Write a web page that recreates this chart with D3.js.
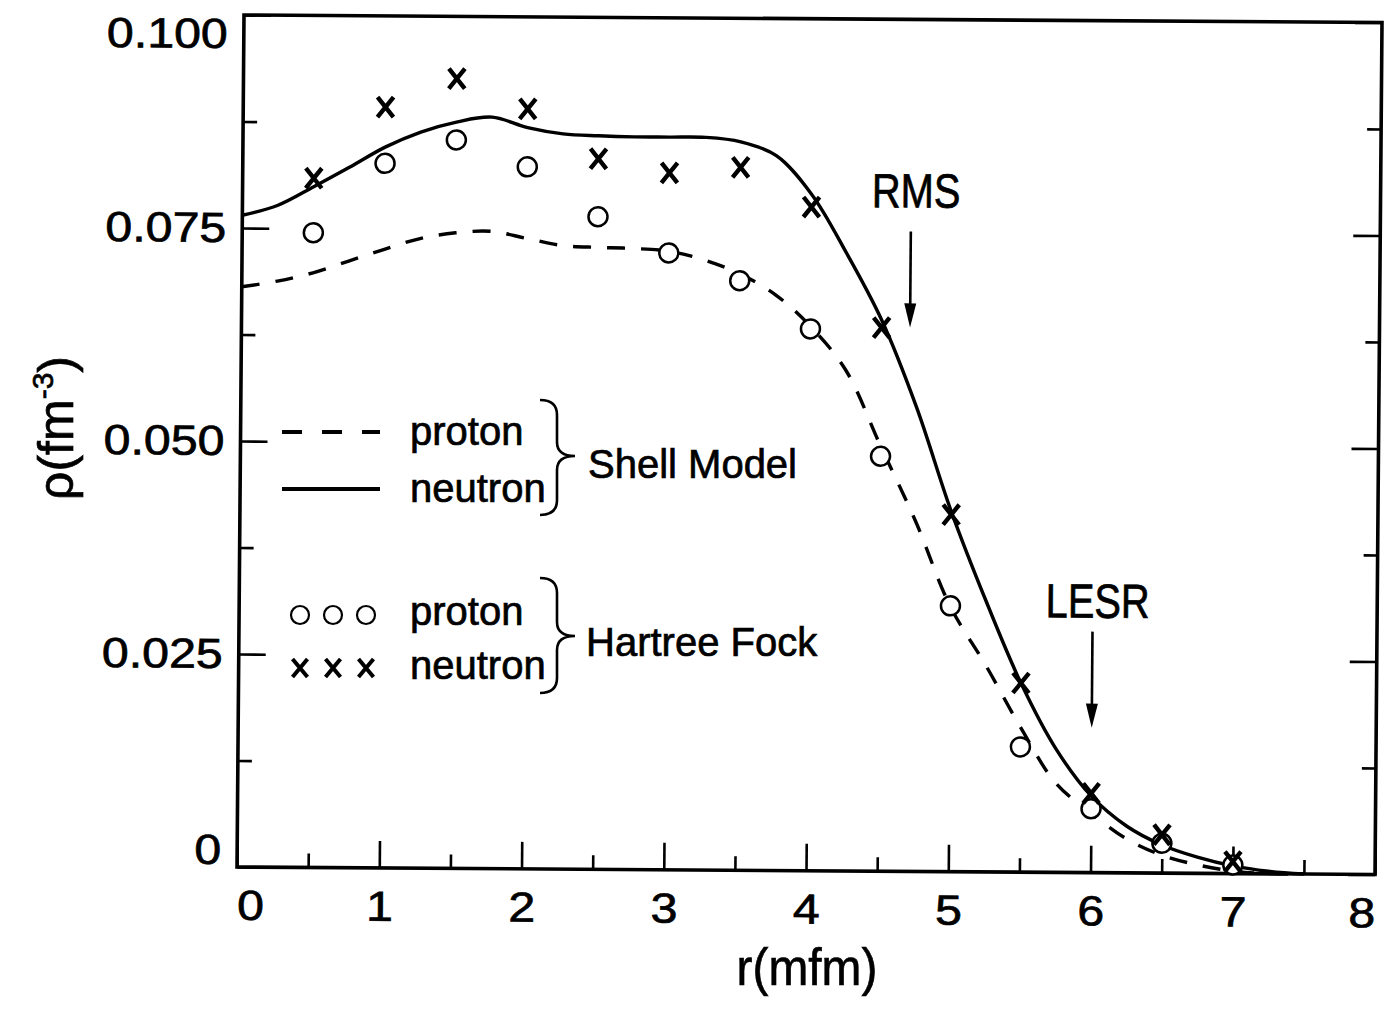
<!DOCTYPE html>
<html>
<head>
<meta charset="utf-8">
<script src="https://cdn.jsdelivr.net/npm/d3@7"></script>
<style>
  html, body { margin: 0; padding: 0; background: #fff; }
  svg { display: block; }
  text { font-family: "Liberation Sans", Arial, Helvetica, sans-serif; fill: #000; stroke: #000; stroke-width: 0.7px; }
</style>
</head>
<body>
<svg id="chart" width="1393" height="1010"></svg>
<script>
// ---- data -------------------------------------------------------------
// radial grid (fm) on which the shell-model densities are tabulated
const rGrid = [0, 0.25, 0.5, 0.75, 1, 1.25, 1.5, 1.75, 2, 2.25, 2.5, 2.75, 3, 3.25, 3.5, 3.75,
               4, 4.25, 4.5, 4.75, 5, 5.25, 5.5, 5.75, 6, 6.25, 6.5, 6.75, 7, 7.25, 7.5];

// shell model densities (fm^-3)
const shellProton = [0.0681, 0.0688, 0.0698, 0.0712, 0.0726, 0.0739, 0.0746, 0.0748, 0.0740, 0.0732,
                     0.0730, 0.0729, 0.0726, 0.0716, 0.0700, 0.0676, 0.0639, 0.0588, 0.0499, 0.0411,
                     0.0311, 0.0243, 0.0170, 0.0105, 0.0070, 0.0040, 0.0021, 0.0010, 0.0003, 0.0000, 0.0000];
const shellNeutron = [0.0765, 0.0777, 0.0799, 0.0822, 0.0846, 0.0864, 0.0876, 0.0882, 0.0870, 0.0863,
                      0.0861, 0.0860, 0.0860, 0.0860, 0.0855, 0.0839, 0.0794, 0.0725, 0.0647, 0.0545,
                      0.0423, 0.0318, 0.0222, 0.0145, 0.0090, 0.0055, 0.0033, 0.0019, 0.0009, 0.0003, 0.0000];

// Hartree-Fock densities (fm^-3)
const hfRadii = [0.5, 1, 1.5, 2, 2.5, 3, 3.5, 4, 4.5, 5, 5.5, 6, 6.5, 7];
const hfProton = [0.0745, 0.0827, 0.0855, 0.0824, 0.0766, 0.0724, 0.0692, 0.0636, 0.0487, 0.0312,
                  0.0147, 0.0075, 0.0035, 0.0010];
const hfNeutron = [0.0809, 0.0893, 0.0927, 0.0892, 0.0834, 0.0818, 0.0825, 0.0779, 0.0638, 0.0419,
                   0.0222, 0.0093, 0.0045, 0.0014];

// axis ticks
const xTicks = [0, 1, 2, 3, 4, 5, 6, 7, 8];
const yTicks = [0, 0.025, 0.05, 0.075, 0.1];
const yTickLabels = ["0", "0.025", "0.050", "0.075", "0.100"];

// radii marked with arrows
const radiusMarks = ["RMS", "LESR"];
const radiusValues = [4.7, 6.0];

// ---- layout -----------------------------------------------------------
const W = 1138, H = 852;
const svg = d3.select("#chart");
svg.append("rect").attr("width", 1393).attr("height", 1010).attr("fill", "#fff");

// the plot box sits slightly tilted on the page
const g = svg.append("g").attr("transform", "matrix(1,0.0066,-0.0082,1,244,15)");

const x = d3.scaleLinear().domain([0, 8]).range([0, W]);
const y = d3.scaleLinear().domain([0, 0.1]).range([H, 0]);

function stretch(sel, k) {
  sel.each(function () {
    const w = this.getComputedTextLength();
    d3.select(this).attr("textLength", w * k).attr("lengthAdjust", "spacingAndGlyphs");
  });
}
function styleAxis(sel) {
  sel.select(".domain").remove();
  sel.selectAll("line").attr("stroke", "#000").attr("stroke-width", 2.6);
  sel.selectAll("text").attr("font-size", 42).attr("fill", "#000");
}

const mid = arr => arr.slice(1).map((v, i) => (v + arr[i]) / 2);
const xMinor = mid(xTicks), yMinor = mid(yTicks);

// bottom axis
const xAx = g.append("g").attr("transform", `translate(0,${H})`)
  .call(d3.axisBottom(x).tickValues(xTicks).tickSize(-27).tickPadding(23).tickFormat(d3.format("d")))
  .call(styleAxis);
xAx.selectAll(".tick text").attr("text-anchor", d => d === 0 ? "start" : d === 8 ? "end" : "middle");
stretch(xAx.selectAll(".tick text"), 1.15);
g.append("g").attr("transform", `translate(0,${H})`)
  .call(d3.axisBottom(x).tickValues(xMinor).tickSize(-14).tickFormat(""))
  .call(styleAxis);

// left axis
const yAx = g.append("g")
  .call(d3.axisLeft(y).tickValues(yTicks).tickSize(-27).tickPadding(16)
        .tickFormat((d, i) => yTickLabels[i]))
  .call(styleAxis);
yAx.selectAll(".tick text").attr("y", d => d === 0.1 ? 19 : d === 0 ? -17 : 0);
stretch(yAx.selectAll(".tick text"), 1.15);
g.append("g").call(d3.axisLeft(y).tickValues(yMinor).tickSize(-14).tickFormat("")).call(styleAxis);

// right axis
g.append("g").attr("transform", `translate(${W},0)`)
  .call(d3.axisRight(y).tickValues(yTicks).tickSize(-27).tickFormat("")).call(styleAxis);
g.append("g").attr("transform", `translate(${W},0)`)
  .call(d3.axisRight(y).tickValues(yMinor).tickSize(-14).tickFormat("")).call(styleAxis);

// frame
g.append("rect").attr("x", 0).attr("y", 0).attr("width", W).attr("height", H)
  .attr("fill", "none").attr("stroke", "#000").attr("stroke-width", 3.6);

// ---- curves -----------------------------------------------------------
const line = d3.line()
  .x((d, i) => x(rGrid[i]))
  .y(d => y(d))
  .curve(d3.curveCatmullRom.alpha(0.5));

g.append("path").datum(shellNeutron).attr("d", line)
  .attr("fill", "none").attr("stroke", "#000").attr("stroke-width", 3.4);
g.append("path").datum(shellProton).attr("d", line)
  .attr("fill", "none").attr("stroke", "#000").attr("stroke-width", 3.4)
  .attr("stroke-dasharray", "18,16");

// ---- Hartree-Fock points ---------------------------------------------
g.selectAll("circle.hfp").data(hfProton).join("circle").attr("class", "hfp")
  .attr("cx", (d, i) => x(hfRadii[i])).attr("cy", d => y(d)).attr("r", 9.5)
  .attr("fill", "#fff").attr("stroke", "#000").attr("stroke-width", 2.5);

const crossPath = "M-8,-10L8,10M8,-10L-8,10";
g.selectAll("path.hfn").data(hfNeutron).join("path").attr("class", "hfn")
  .attr("transform", (d, i) => `translate(${x(hfRadii[i])},${y(d)})`)
  .attr("d", crossPath).attr("fill", "none").attr("stroke", "#000").attr("stroke-width", 4.4);

// ---- radius arrows ---------------------------------------------------
const arrowLayout = { RMS: { top: 212, tip: 308, label: 188 }, LESR: { top: 611, tip: 707, label: 597 } };
radiusMarks.forEach((name, i) => {
  const ax = x(radiusValues[i]);
  const L = arrowLayout[name];
  g.append("line").attr("x1", ax).attr("x2", ax).attr("y1", L.top).attr("y2", L.tip - 20)
    .attr("stroke", "#000").attr("stroke-width", 2.6);
  g.append("path").attr("d", `M${ax - 6},${L.tip - 24}L${ax + 6},${L.tip - 24}L${ax},${L.tip}Z`)
    .attr("fill", "#000");
  const t = g.append("text").attr("x", ax + 5).attr("y", L.label)
    .attr("text-anchor", "middle").attr("font-size", 48).text(name);
  stretch(t, 0.83);
});

// ---- axis titles -----------------------------------------------------
const xt = svg.append("text").attr("x", 807).attr("y", 985).attr("text-anchor", "middle")
  .attr("font-size", 52).text("r(mfm)");
stretch(xt, 0.92);

const yt = svg.append("text").attr("transform", "translate(73,500) rotate(-90)")
  .attr("font-size", 50);
yt.append("tspan").text("ρ(fm");
yt.append("tspan").attr("font-size", 30).attr("dy", -20).text("-3");
yt.append("tspan").attr("dy", 20).text(")");

// ---- legend ----------------------------------------------------------
const leg = svg.append("g");
leg.append("line").attr("x1", 282).attr("x2", 380).attr("y1", 432).attr("y2", 432)
  .attr("stroke", "#000").attr("stroke-width", 4).attr("stroke-dasharray", "20,20");
leg.append("line").attr("x1", 282).attr("x2", 380).attr("y1", 489).attr("y2", 489)
  .attr("stroke", "#000").attr("stroke-width", 4);

[300, 333, 366].forEach(cx => {
  leg.append("circle").attr("cx", cx).attr("cy", 615).attr("r", 9).attr("fill", "none")
    .attr("stroke", "#000").attr("stroke-width", 2.2);
  leg.append("path").attr("transform", `translate(${cx},668)`).attr("d", "M-7.5,-9L7.5,9M7.5,-9L-7.5,9")
    .attr("fill", "none").attr("stroke", "#000").attr("stroke-width", 4);
});

const legText = [
  { t: "proton", x: 410, y: 445 }, { t: "neutron", x: 410, y: 502 },
  { t: "proton", x: 410, y: 625 }, { t: "neutron", x: 410, y: 679 },
  { t: "Shell Model", x: 588, y: 478 }, { t: "Hartree Fock", x: 586, y: 656 }
];
legText.forEach(d => {
  leg.append("text").attr("x", d.x).attr("y", d.y).attr("font-size", 40).text(d.t);
});

function brace(top, bottom, tipY) {
  const x0 = 540, xm = 557, xt = 575;
  return `M${x0},${top}Q${xm},${top} ${xm},${top + 15}L${xm},${tipY - 14}Q${xm},${tipY} ${xt},${tipY}` +
         `Q${xm},${tipY} ${xm},${tipY + 14}L${xm},${bottom - 15}Q${xm},${bottom} ${x0},${bottom}`;
}
leg.append("path").attr("d", brace(400, 515, 456)).attr("fill", "none").attr("stroke", "#000").attr("stroke-width", 2.6);
leg.append("path").attr("d", brace(578, 693, 636)).attr("fill", "none").attr("stroke", "#000").attr("stroke-width", 2.6);
</script>
</body>
</html>
